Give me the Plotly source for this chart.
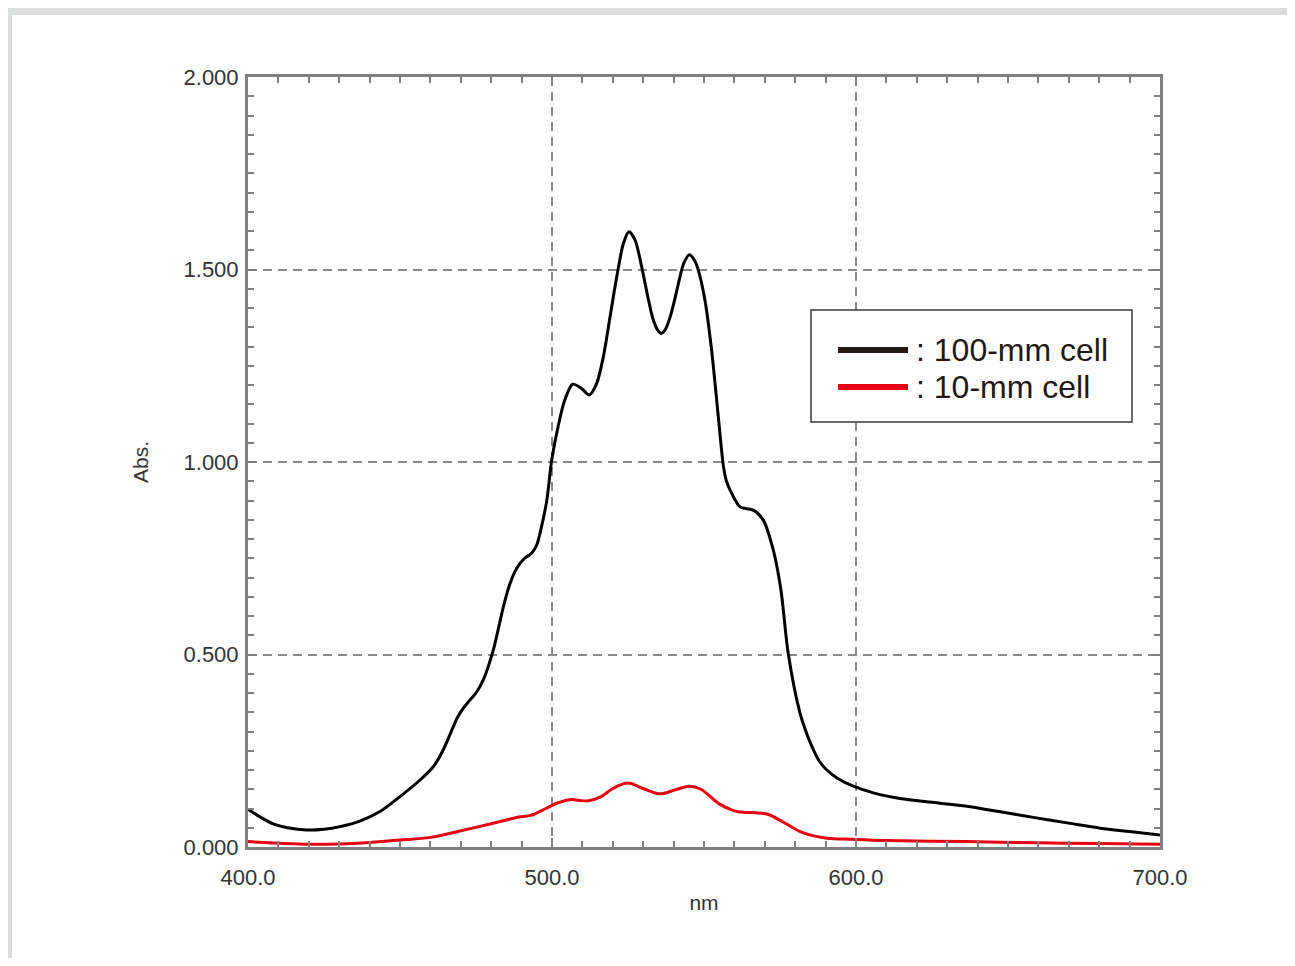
import plotly.graph_objects as go

# ---- data ----
black_nm = [400, 404, 408.3, 413, 419.3, 425, 430.3, 437, 443.4, 450, 456.6, 461, 464.2, 467.5,
            468.8, 470.5, 472.5, 475, 477.4, 480.7, 484, 486, 488.4, 491, 493.3, 495, 496.5,
            498.3, 499.9, 502, 504.2, 506.8, 509.7, 512.3, 514.7, 516.9, 519.1, 521.3, 523.5,
            525.3, 527.3, 529.5, 531.5, 533.2, 534.7, 535.9, 537.2, 538.8, 540.3, 541.6, 543.3,
            545.2, 547, 548.1, 550.3, 552.5, 554.7, 556.4, 557.4, 558.6, 561.8, 566.2, 569.5,
            572.8, 575.3, 577.7, 581.6, 584, 586, 588, 590.4, 594, 599.1, 606, 614.5, 625, 636.4,
            647, 658.3, 670, 680.3, 690, 700]
black_abs = [0.098, 0.078, 0.060, 0.050, 0.044, 0.046, 0.053, 0.068, 0.092, 0.131, 0.174, 0.209,
             0.252, 0.312, 0.335, 0.357, 0.377, 0.400, 0.434, 0.512, 0.624, 0.680, 0.724, 0.750,
             0.763, 0.785, 0.830, 0.901, 1.005, 1.092, 1.161, 1.202, 1.191, 1.174, 1.204, 1.274,
             1.377, 1.481, 1.568, 1.598, 1.577, 1.507, 1.430, 1.372, 1.343, 1.334, 1.343, 1.375,
             1.420, 1.464, 1.515, 1.538, 1.522, 1.499, 1.421, 1.291, 1.118, 0.988, 0.950, 0.927,
             0.884, 0.875, 0.849, 0.771, 0.668, 0.503, 0.347, 0.290, 0.252, 0.222, 0.200, 0.178,
             0.158, 0.140, 0.126, 0.116, 0.106, 0.092, 0.077, 0.062, 0.049, 0.040, 0.031]

red_nm = [400, 410, 420, 430, 440, 450, 460, 470, 476, 485, 489, 493, 498, 502, 506, 509, 512,
          516, 520, 525, 530, 535.5, 540, 545, 549, 555, 560, 563, 567, 571, 576, 581.6, 586,
          590.4, 599, 610, 636, 660, 680, 700]
red_abs = [0.014, 0.010, 0.007, 0.008, 0.012, 0.018, 0.025, 0.042, 0.053, 0.070, 0.078, 0.082,
           0.100, 0.115, 0.123, 0.121, 0.120, 0.130, 0.152, 0.166, 0.152, 0.138, 0.147, 0.158,
           0.150, 0.112, 0.094, 0.090, 0.089, 0.085, 0.065, 0.040, 0.029, 0.023, 0.020, 0.017,
           0.014, 0.011, 0.009, 0.007]

series_names = [": 100-mm cell", ": 10-mm cell"]
series_colors = ["#000000", "#e60012"]
legend_colors = ["#231815", "#e60012"]

x_ticks = [400, 500, 600, 700]
x_ticktext = ["400.0", "500.0", "600.0", "700.0"]
y_ticks = [0, 0.5, 1.0, 1.5, 2.0]
y_ticktext = ["0.000", "0.500", "1.000", "1.500", "2.000"]

FONT = "Liberation Sans, Arial, sans-serif"
AXIS_GREY = "#808080"

# page offset (body margin) and figure size
OX, OY = 8, 8
FIG_W, FIG_H = 1295 - 2 * OX, 966 - 2 * OY

# plot-area pixel geometry (figure coordinates)
L, R, T, B = 248 - OX, 1160 - OX, 77 - OY, 847 - OY
W, H = R - L, B - T


def px(x_page):
    return (x_page - OX - L) / W


def py(y_page):
    return (B - (y_page - OY)) / H


fig = go.Figure()
fig.add_trace(go.Scatter(x=black_nm, y=black_abs, mode="lines", name=series_names[0],
                         line=dict(color=series_colors[0], width=3, shape="spline", smoothing=0.8),
                         showlegend=False))
fig.add_trace(go.Scatter(x=red_nm, y=red_abs, mode="lines", name=series_names[1],
                         line=dict(color=series_colors[1], width=3, shape="spline", smoothing=0.9),
                         showlegend=False))

axis_common = dict(
    showline=True, linecolor=AXIS_GREY, linewidth=3, mirror="allticks",
    ticks="inside", ticklen=9, tickwidth=2, tickcolor=AXIS_GREY,
    showgrid=True, gridcolor="#8a8a8a", gridwidth=1.6, griddash="9px,6px",
    zeroline=False,
    tickfont=dict(family=FONT, size=22, color="#333333"),
    title_font=dict(family=FONT, size=21, color="#333333"),
)

fig.update_xaxes(
    range=[400, 700], tickvals=x_ticks, ticktext=x_ticktext,
    minor=dict(dtick=10, tick0=400, ticks="inside", ticklen=6, tickwidth=1.5,
               tickcolor=AXIS_GREY, showgrid=False),
    title_text="nm", title_standoff=6, ticklabelstandoff=9,
    **axis_common)
fig.update_yaxes(
    range=[0, 2.0], tickvals=y_ticks, ticktext=y_ticktext,
    minor=dict(dtick=0.05, tick0=0, ticks="inside", ticklen=6, tickwidth=1.5,
               tickcolor=AXIS_GREY, showgrid=False),
    title_text="Abs.", title_standoff=30, ticklabelstandoff=2,
    **axis_common)

shapes = [
    # outer light-grey frame
    dict(type="rect", xref="paper", yref="paper", layer="below",
         x0=px(6), x1=px(1320), y0=py(6), y1=py(990),
         fillcolor="#dcdddd", line=dict(width=0)),
    dict(type="rect", xref="paper", yref="paper", layer="below",
         x0=px(12), x1=px(1320), y0=py(15), y1=py(990),
         fillcolor="#ffffff", line=dict(width=0)),
    # legend box
    dict(type="rect", xref="paper", yref="paper",
         x0=px(811), x1=px(1132), y0=py(310), y1=py(422),
         fillcolor="#ffffff", line=dict(color="#3a3a3a", width=1.5)),
]
annotations = []
legend_rows = [350, 387]
for name, col, yrow in zip(series_names, legend_colors, legend_rows):
    shapes.append(dict(type="line", xref="paper", yref="paper",
                       x0=px(838), x1=px(908), y0=py(yrow), y1=py(yrow),
                       line=dict(color=col, width=6)))
    annotations.append(dict(xref="paper", yref="paper", x=px(914), y=py(yrow),
                            xanchor="left", yanchor="middle", showarrow=False,
                            text=name, font=dict(family=FONT, size=32, color="#231815")))

fig.update_layout(
    width=FIG_W, height=FIG_H,
    margin=dict(l=L, r=FIG_W - R, t=T, b=FIG_H - B),
    paper_bgcolor="#ffffff", plot_bgcolor="#ffffff",
    shapes=shapes, annotations=annotations,
    showlegend=False,
)

fig.write_html("out.html")
